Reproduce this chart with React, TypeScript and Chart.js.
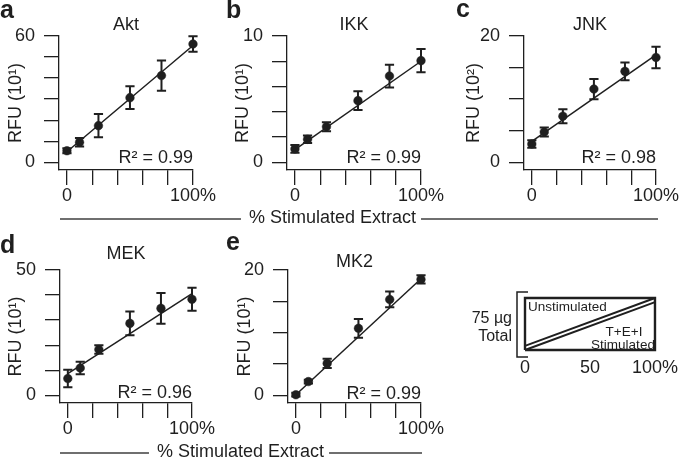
import React, { useEffect, useRef } from "react";
import { Chart, registerables } from "chart.js";

Chart.register(...registerables);

// ---------------- data ----------------
const stimulatedPct = [0, 10, 25, 50, 75, 100];
const xTickValues = [0, 20, 40, 60, 80, 100];
const fitX = [0, 100];

const aktValues = [5.5, 9.5, 17.4, 30.7, 41.2, 56.2];
const aktErrors = [1.2, 2.0, 5.5, 5.4, 7.2, 3.7];
const aktFit = [5.0, 55.5];
const aktTicks = [0, 10, 20, 30, 40, 50, 60];

const ikkValues = [1.06, 1.82, 2.82, 4.88, 6.83, 8.05];
const ikkErrors = [0.3, 0.3, 0.36, 0.74, 0.9, 0.92];
const ikkFit = [1.0, 8.0];
const ikkTicks = [0, 2, 4, 6, 8, 10];

const jnkValues = [2.9, 4.8, 7.3, 11.6, 14.4, 16.6];
const jnkErrors = [0.6, 0.7, 1.1, 1.6, 1.4, 1.7];
const jnkFit = [3.3, 17.0];
const jnkTicks = [0, 5, 10, 15, 20];

const mekValues = [6.7, 10.9, 18.3, 28.7, 34.7, 38.3];
const mekErrors = [3.5, 2.5, 1.7, 4.7, 6.1, 4.6];
const mekFit = [8.7, 40.6];
const mekTicks = [0, 10, 20, 30, 40, 50];

const mk2Values = [0.1, 2.2, 5.1, 10.7, 15.3, 18.5];
const mk2Errors = [0.3, 0.3, 0.75, 1.5, 1.25, 0.65];
const mk2Fit = [0.1, 18.6];
const mk2Ticks = [0, 5, 10, 15, 20];

// schematic (mixing of unstimulated / stimulated extract)
const mixPct = [0, 100];
const mixTicks = [0, 50, 100];
const unstimBoundary = [0.08, 1];
const stimBoundary = [0, 0.92];
const outlineX = [0, 100, 100, 0, 0];
const outlineY = [0, 0, 1, 1, 0];

// ---------------- styling / layout ----------------
const W = 685;
const H = 458;
const FONT = '"Liberation Sans", Arial, Helvetica, sans-serif';
const INK = "#1f1f1f";
const RULE = "#6f6f6f";

type Panel = {
  letter: string;
  title: string;
  yTitle: string;
  r2: string;
  values: number[];
  errors: number[];
  fit: number[];
  yTicks: number[];
  box: { left: number; right: number; top: number; bottom: number };
  titleBaseline: number;
  letterPos: [number, number];
  r2Baseline: number;
  yTitleOffset: number;
};

const panels: Panel[] = [
  { letter: "a", title: "Akt", yTitle: "RFU (10¹)", r2: "R² = 0.99", values: aktValues, errors: aktErrors, fit: aktFit, yTicks: aktTicks,
    box: { left: 59, right: 193, top: 36, bottom: 170 }, titleBaseline: 30, letterPos: [0, 18], r2Baseline: 163, yTitleOffset: 43 },
  { letter: "b", title: "IKK", yTitle: "RFU (10¹)", r2: "R² = 0.99", values: ikkValues, errors: ikkErrors, fit: ikkFit, yTicks: ikkTicks,
    box: { left: 287, right: 421, top: 36, bottom: 170 }, titleBaseline: 30, letterPos: [226, 18], r2Baseline: 163, yTitleOffset: 44 },
  { letter: "c", title: "JNK", yTitle: "RFU (10²)", r2: "R² = 0.98", values: jnkValues, errors: jnkErrors, fit: jnkFit, yTicks: jnkTicks,
    box: { left: 524, right: 656, top: 36, bottom: 170 }, titleBaseline: 30, letterPos: [456, 17], r2Baseline: 163, yTitleOffset: 50 },
  { letter: "d", title: "MEK", yTitle: "RFU (10¹)", r2: "R² = 0.96", values: mekValues, errors: mekErrors, fit: mekFit, yTicks: mekTicks,
    box: { left: 60, right: 192, top: 270, bottom: 403 }, titleBaseline: 259, letterPos: [0, 253], r2Baseline: 398, yTitleOffset: 44 },
  { letter: "e", title: "MK2", yTitle: "RFU (10¹)", r2: "R² = 0.99", values: mk2Values, errors: mk2Errors, fit: mk2Fit, yTicks: mk2Ticks,
    box: { left: 288, right: 421, top: 270, bottom: 403 }, titleBaseline: 267, letterPos: [226, 250], r2Baseline: 399, yTitleOffset: 43 },
];

function text(ctx: CanvasRenderingContext2D, s: string, x: number, y: number, size: number, align: CanvasTextAlign, weight = "normal") {
  ctx.font = `${weight} ${size}px ${FONT}`;
  ctx.textAlign = align;
  ctx.textBaseline = "alphabetic";
  ctx.fillStyle = INK;
  ctx.fillText(s, x, y);
}

function panelConfig(p: Panel): any {
  const yMax = p.yTicks[p.yTicks.length - 1];
  const yMin = -0.061 * yMax;
  const xMin = -6.3;
  const yAxisW = 50;
  const xAxisH = 45;
  const tickFont = { family: FONT, size: 18 };
  return {
    type: "scatter",
    data: {
      datasets: [
        {
          data: stimulatedPct.map((x, i) => ({ x, y: p.values[i] })),
          pointRadius: 4.3,
          pointBackgroundColor: INK,
          pointBorderColor: INK,
          pointBorderWidth: 0.5,
          showLine: false,
          clip: false,
        },
        {
          data: fitX.map((x, i) => ({ x, y: p.fit[i] })),
          showLine: true,
          borderColor: INK,
          borderWidth: 1.5,
          pointRadius: 0,
          clip: false,
        },
      ],
    },
    options: {
      responsive: false,
      maintainAspectRatio: false,
      animation: false,
      devicePixelRatio: 1,
      events: [],
      layout: {
        padding: { left: p.box.left - yAxisW, top: p.box.top, right: W - p.box.right, bottom: H - p.box.bottom - xAxisH },
      },
      plugins: { legend: { display: false }, tooltip: { enabled: false }, title: { display: false } },
      scales: {
        x: {
          type: "linear",
          bounds: "data",
          min: xMin,
          max: 100,
          afterFit: (s: any) => { s.height = xAxisH; },
          afterBuildTicks: (s: any) => { s.ticks = xTickValues.map((v) => ({ value: v })); },
          grid: { drawOnChartArea: false, drawTicks: true, tickLength: 15, color: INK, lineWidth: 1.3 },
          border: { display: true, color: INK, width: 1.3 },
          ticks: {
            autoSkip: false, maxRotation: 0, minRotation: 0, padding: 0, color: INK, font: tickFont,
            callback: (v: number) => (v === 0 ? "0" : v === 100 ? "100%" : ""),
          },
        },
        y: {
          type: "linear",
          bounds: "data",
          min: yMin,
          max: yMax,
          afterFit: (s: any) => { s.width = yAxisW; },
          afterBuildTicks: (s: any) => { s.ticks = p.yTicks.map((v) => ({ value: v })); },
          grid: { drawOnChartArea: false, drawTicks: true, tickLength: 15, color: INK, lineWidth: 1.3 },
          border: { display: true, color: INK, width: 1.3 },
          ticks: {
            autoSkip: false, padding: 9, color: INK, font: tickFont,
            callback: (v: number) => (v === 0 || v === yMax ? String(v) : ""),
          },
        },
      },
    },
    plugins: [
      {
        id: "errorBarsAndLabels",
        afterDatasetsDraw(chart: any) {
          const { ctx, scales } = chart;
          const xs = scales.x;
          const ys = scales.y;
          ctx.save();
          ctx.strokeStyle = INK;
          ctx.lineWidth = 2;
          stimulatedPct.forEach((xv, i) => {
            const px = xs.getPixelForValue(xv);
            const top = ys.getPixelForValue(p.values[i] + p.errors[i]);
            const bot = ys.getPixelForValue(p.values[i] - p.errors[i]);
            ctx.beginPath();
            ctx.moveTo(px, top);
            ctx.lineTo(px, bot);
            ctx.moveTo(px - 4.6, top);
            ctx.lineTo(px + 4.6, top);
            ctx.moveTo(px - 4.6, bot);
            ctx.lineTo(px + 4.6, bot);
            ctx.stroke();
          });
          ctx.restore();
        },
        afterDraw(chart: any) {
          const { ctx, chartArea } = chart;
          ctx.save();
          text(ctx, p.title, (chartArea.left + chartArea.right) / 2, p.titleBaseline, 18, "center");
          text(ctx, p.letter, p.letterPos[0], p.letterPos[1], 25, "left", "bold");
          text(ctx, p.r2, chartArea.right, p.r2Baseline, 18, "right");
          ctx.translate(chartArea.left - p.yTitleOffset, (chartArea.top + chartArea.bottom) / 2);
          ctx.rotate(-Math.PI / 2);
          ctx.font = `18px ${FONT}`;
          ctx.textAlign = "center";
          ctx.textBaseline = "middle";
          ctx.fillStyle = INK;
          ctx.fillText(p.yTitle, 0, 0);
          ctx.restore();
        },
      },
    ],
  };
}

function schematicConfig(): any {
  const area = { left: 525, right: 657, top: 298, bottom: 350 };
  const xAxisH = 30;
  const line = (xs: number[], ys: number[], width: number) => ({
    data: xs.map((x, i) => ({ x, y: ys[i] })),
    showLine: true,
    borderColor: INK,
    borderWidth: width,
    pointRadius: 0,
    clip: false,
    borderJoinStyle: "miter",
  });
  return {
    type: "scatter",
    data: {
      datasets: [
        line(outlineX, outlineY, 2.4),
        line(mixPct, unstimBoundary, 2),
        line(mixPct, stimBoundary, 2),
      ],
    },
    options: {
      responsive: false,
      maintainAspectRatio: false,
      animation: false,
      devicePixelRatio: 1,
      events: [],
      layout: { padding: { left: area.left, top: area.top, right: W - area.right, bottom: H - area.bottom - xAxisH } },
      plugins: { legend: { display: false }, tooltip: { enabled: false } },
      scales: {
        x: {
          type: "linear",
          bounds: "data",
          min: 0,
          max: 100,
          afterFit: (s: any) => { s.height = xAxisH; },
          afterBuildTicks: (s: any) => { s.ticks = mixTicks.map((v) => ({ value: v })); },
          grid: { display: false, drawTicks: false },
          border: { display: false },
          ticks: {
            autoSkip: false, maxRotation: 0, padding: 7, color: INK, font: { family: FONT, size: 18 },
            callback: (v: number) => (v === 100 ? "100%" : String(v)),
          },
        },
        y: { type: "linear", display: false, min: 0, max: 1 },
      },
    },
    plugins: [
      {
        id: "schematicAndGroupLabels",
        afterDraw(chart: any) {
          const { ctx, chartArea } = chart;
          const L = chartArea.left;
          const T = chartArea.top;
          ctx.save();
          // inner labels
          text(ctx, "Unstimulated", L + 3, T + 13, 13.5, "left");
          text(ctx, "T+E+I", L + 99, T + 38, 13.5, "center");
          text(ctx, "Stimulated", L + 98, T + 50.5, 13.5, "center");
          // total label
          text(ctx, "75 µg", L - 13, T + 24.5, 16, "right");
          text(ctx, "Total", L - 13, T + 43, 16, "right");
          // bracket
          ctx.strokeStyle = INK;
          ctx.lineWidth = 1.5;
          ctx.beginPath();
          ctx.moveTo(L + 3, T - 6);
          ctx.lineTo(L - 8, T - 6);
          ctx.lineTo(L - 8, chartArea.bottom + 7);
          ctx.lineTo(L + 3, chartArea.bottom + 7);
          ctx.stroke();

          // shared x-axis group labels
          const group = (cx: number, baseline: number, lineY: number, x0: number, x1: number) => {
            const label = "% Stimulated Extract";
            ctx.font = `18px ${FONT}`;
            const w = ctx.measureText(label).width;
            text(ctx, label, cx, baseline, 18, "center");
            ctx.strokeStyle = RULE;
            ctx.lineWidth = 2;
            ctx.beginPath();
            ctx.moveTo(x0, lineY);
            ctx.lineTo(cx - w / 2 - 8, lineY);
            ctx.moveTo(cx + w / 2 + 5, lineY);
            ctx.lineTo(x1, lineY);
            ctx.stroke();
          };
          group(332.5, 223, 219, 60, 658);
          group(240.5, 457, 453, 60, 422);
          ctx.restore();
        },
      },
    ],
  };
}

function ChartCanvas({ build }: { build: () => any }) {
  const ref = useRef<HTMLCanvasElement>(null);
  useEffect(() => {
    const chart = new Chart(ref.current as HTMLCanvasElement, build());
    return () => chart.destroy();
  }, []);
  return (
    <canvas
      ref={ref}
      width={W}
      height={H}
      style={{ position: "absolute", left: 0, top: 0, width: W, height: H }}
    />
  );
}

export default function App() {
  return (
    <div style={{ position: "fixed", left: 0, top: 0, width: W, height: H, background: "#fff", overflow: "hidden" }}>
      {panels.map((p) => (
        <ChartCanvas key={p.letter} build={() => panelConfig(p)} />
      ))}
      <ChartCanvas build={schematicConfig} />
    </div>
  );
}
